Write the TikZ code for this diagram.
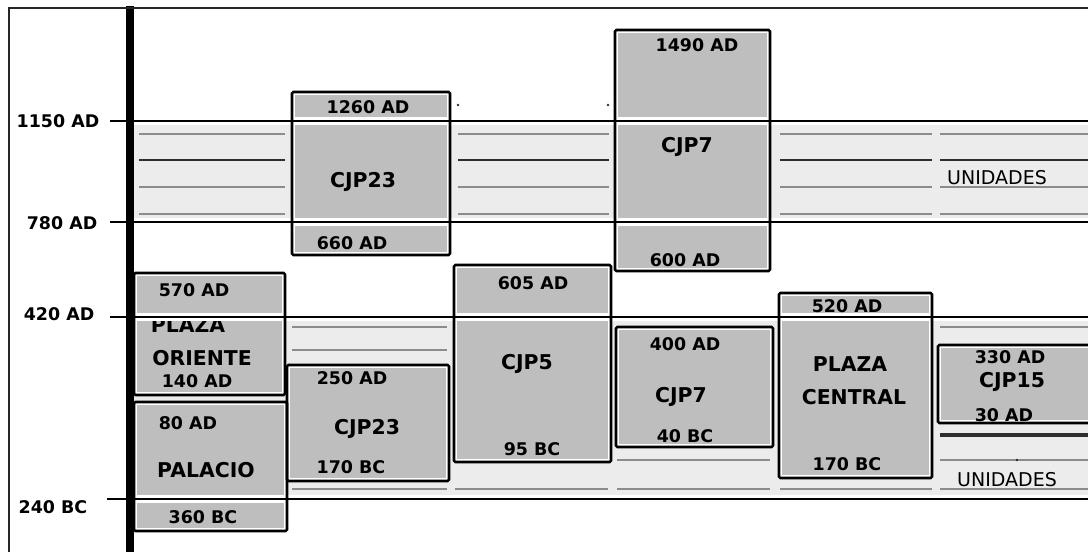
\documentclass[tikz,border=0pt]{standalone}
\usepackage{fontspec}
\setmainfont{DejaVu Sans}

\definecolor{boxgray}{RGB}{190,190,190}
\definecolor{bandgray}{RGB}{236,236,236}
\definecolor{rulegray}{RGB}{140,140,140}
\definecolor{darkrule}{RGB}{45,45,45}

\tikzset{
  datelbl/.style={font=\bfseries\fontsize{12.4}{14}\selectfont,inner sep=0pt},
  namelbl/.style={font=\bfseries\fontsize{14.5}{16}\selectfont,inner sep=0pt},
  unitlbl/.style={font=\fontsize{13.5}{15}\selectfont,inner sep=0pt},
  axislbl/.style={font=\bfseries\fontsize{12.4}{14}\selectfont,inner sep=0pt},
  refline/.style={line width=1.8pt,preaction={draw=white,line width=5pt}},
  bandline/.style={rulegray,line width=1.4pt},
  unitbox/.style={draw=black,line width=1.8pt,rounded corners=1pt},
}

% unit boxes: left/top/right/bottom in pixels
\def\boxlist{134/273/285/395,134/402/287/531,292/92/450/255,615/30/770/271,
  454/265/611/462,287/365/449/481,616/327/773/447,779/293/932/478,938/345/1100/423}

\begin{document}
\begin{tikzpicture}[x=0.025cm,y=-0.025cm]
\useasboundingbox (0,0) rectangle (1088,552);
\clip (0,0) rectangle (1088,552);

% light bands between the dated horizons
\fill[bandgray] (133,121) rectangle (1088,222);
\fill[bandgray] (133,317) rectangle (1088,499);

% thin rules inside the bands, column by column
\foreach \xa/\xb in {139/285,458/609,780/932,940/1088}{
  \foreach \y in {134,187,214}
    \draw[bandline] (\xa,\y) -- (\xb,\y);
  \draw[bandline,darkrule] (\xa,160) -- (\xb,160);
}
\foreach \xa/\xb/\y in {292/447/327,292/447/350,292/447/489,455/608/489,
  617/770/460,617/770/489,780/932/489,940/1088/327,940/1088/460,940/1088/489}
  \draw[bandline] (\xa,\y) -- (\xb,\y);
\draw[darkrule,line width=2.2pt] (940,435) -- (1088,435);
\foreach \x/\y in {458/105,608/105,1017/435,1017/460}
  \fill[darkrule] (\x,\y) circle[radius=0.9pt];

% box fills, white rim inside the outline
\foreach \xa/\ya/\xb/\yb in \boxlist {
  \fill[white] (\xa,\ya) rectangle (\xb,\yb);
  \fill[boxgray] (\xa+3,\ya+3) rectangle (\xb-3,\yb-3);
}

% dates inside the boxes
\foreach \nm/\x/\y/\t in {
  oriTop/194/290/570 AD,oriBot/197/381/140 AD,
  palTop/188/423/80 AD,palBot/203/517/360 BC,
  cjpA/368/107/1260 AD,cjpB/352/243/660 AD,
  cjpC/697/45/1490 AD,cjpD/685/260/600 AD,
  cjpE/533/283/605 AD,cjpF/532/449/95 BC,
  cjpG/352/378/250 AD,cjpH/351/467/170 BC,
  cjpI/685/344/400 AD,cjpJ/685/436/40 BC,
  cenTop/847/306/520 AD,cenBot/847/464/170 BC,
  cjpK/1010/357/330 AD,cjpL/1004/415/30 AD}
  \node[datelbl] (\nm) at (\x,\y) {\t};

% unit names
\foreach \nm/\x/\y/\t in {
  oriA/188/325/PLAZA,oriB/202/358/ORIENTE,pal/206/470/PALACIO,
  cjp23a/363/182/CJP23,cjp7a/687/147/CJP7,cjp5/527/364/CJP5,
  cjp23b/367/429/CJP23,cjp7b/681/397/CJP7,
  cenA/850/364/PLAZA,cenB/854/397/CENTRAL,cjp15/1012/382/CJP15}
  \node[namelbl] (\nm) at (\x,\y) {\t};

\node[unitlbl] (unitsUp) at (997,178) {UNIDADES};
\node[unitlbl] (unitsLow) at (1007,480) {UNIDADES};

% dated horizons with their ticks
\foreach \nm/\y/\xt/\lx/\ly/\t in {
  h1150/121/110/58/121/1150 AD,h780/222/110/62/223/780 AD,
  h420/317/110/59/314/420 AD,h240/499/107/53/507/240 BC}{
  \draw[refline] (\xt,\y) -- (1088,\y);
  \node[axislbl] (\nm) at (\lx,\ly) {\t};
}

% box outlines over the horizons
\foreach \xa/\ya/\xb/\yb in \boxlist
  \draw[unitbox] (\xa,\ya) rectangle (\xb,\yb);

% time axis and frame
\draw[line width=5pt] (130,6) -- (130,552);
\draw[line width=1.4pt,black!85] (9,552) -- (9,8) -- (1088,8);
\end{tikzpicture}
\end{document}
